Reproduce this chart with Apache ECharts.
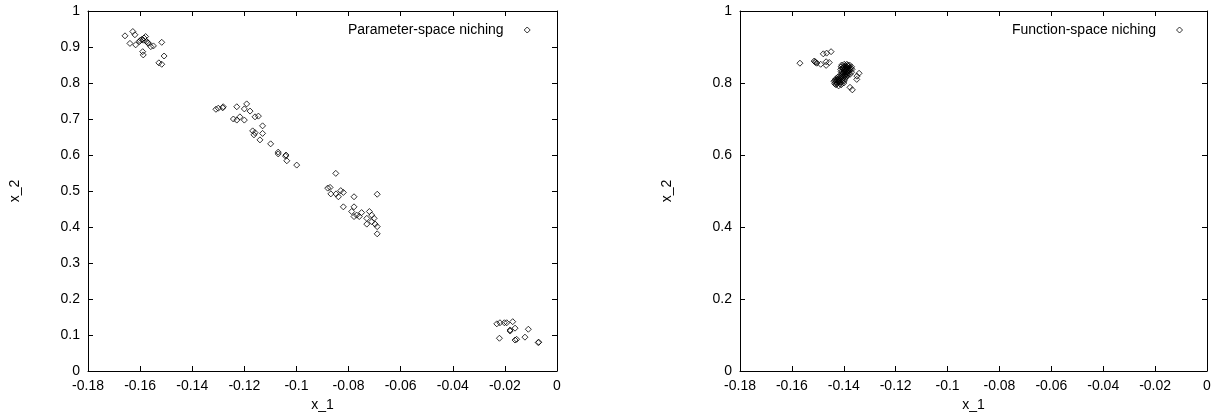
<!DOCTYPE html>
<html>
<head>
    <meta charset="utf-8">
    <title>niching</title>
    <script src="https://cdn.jsdelivr.net/npm/echarts@6/dist/echarts.min.js"></script>
    <style>
        html, body { margin: 0; padding: 0; background: #fff; }
        #chart { width: 1216px; height: 413px; }
    </style>
</head>
<body>
<div id="chart"></div>
<script>
    // 参数空间 niching 的点 [x_1, x_2]
    var paramNiching = [
        [-0.1658, 0.931], [-0.1628, 0.943], [-0.1620, 0.934], [-0.1639, 0.910], [-0.1617, 0.906],
        [-0.1603, 0.915], [-0.1594, 0.921], [-0.1588, 0.919], [-0.1579, 0.929], [-0.1575, 0.915],
        [-0.1569, 0.910], [-0.1559, 0.901], [-0.1549, 0.903], [-0.1590, 0.887], [-0.1588, 0.878],
        [-0.1517, 0.913], [-0.1508, 0.875], [-0.1528, 0.856], [-0.1517, 0.852], [-0.1600, 0.918],
        [-0.1585, 0.925], [-0.1570, 0.912],
        [-0.1309, 0.727], [-0.1300, 0.730], [-0.1281, 0.734], [-0.1283, 0.731], [-0.1229, 0.734],
        [-0.1200, 0.728], [-0.1191, 0.742], [-0.1178, 0.722], [-0.1159, 0.706], [-0.1146, 0.708],
        [-0.1242, 0.700], [-0.1229, 0.697], [-0.1217, 0.706], [-0.1200, 0.697], [-0.1168, 0.667],
        [-0.1159, 0.662], [-0.1163, 0.656], [-0.1130, 0.681], [-0.1130, 0.660], [-0.1140, 0.642],
        [-0.1099, 0.631], [-0.1070, 0.603], [-0.1070, 0.608], [-0.1040, 0.600], [-0.1037, 0.584],
        [-0.0999, 0.572], [-0.1042, 0.597],
        [-0.0849, 0.549], [-0.0880, 0.508], [-0.0871, 0.510], [-0.0868, 0.492], [-0.0848, 0.492],
        [-0.0839, 0.484], [-0.0830, 0.501], [-0.0820, 0.496], [-0.0779, 0.484], [-0.0690, 0.491],
        [-0.0820, 0.456], [-0.0779, 0.456], [-0.0788, 0.443], [-0.0779, 0.429], [-0.0769, 0.433],
        [-0.0759, 0.429], [-0.0750, 0.440], [-0.0730, 0.424], [-0.0730, 0.408], [-0.0720, 0.443],
        [-0.0711, 0.433], [-0.0702, 0.424], [-0.0711, 0.415], [-0.0698, 0.408], [-0.0690, 0.401],
        [-0.0690, 0.381],
        [-0.0231, 0.131], [-0.0219, 0.134], [-0.0202, 0.134], [-0.0193, 0.134], [-0.0170, 0.137],
        [-0.0161, 0.119], [-0.0180, 0.114], [-0.0180, 0.111], [-0.0221, 0.091], [-0.0161, 0.086],
        [-0.0155, 0.088], [-0.0123, 0.094], [-0.0110, 0.116], [-0.0072, 0.079], [-0.0070, 0.080]
    ];

    // 函数空间 niching 的点 [x_1, x_2]
    var funcNiching = [
        [-0.1569, 0.855], [-0.1511, 0.859], [-0.1514, 0.861], [-0.1508, 0.857], [-0.1504, 0.855],
        [-0.1489, 0.852], [-0.1479, 0.881], [-0.1466, 0.883], [-0.1449, 0.887], [-0.1468, 0.859],
        [-0.1468, 0.849], [-0.1456, 0.857],
        [-0.1341, 0.827], [-0.1349, 0.819], [-0.1350, 0.810], [-0.1376, 0.788], [-0.1367, 0.781],
        [-0.1400, 0.845], [-0.1395, 0.848], [-0.1390, 0.846], [-0.1385, 0.843], [-0.1405, 0.840],
        [-0.1398, 0.838], [-0.1388, 0.837], [-0.1380, 0.840], [-0.1410, 0.832], [-0.1400, 0.830],
        [-0.1392, 0.829], [-0.1384, 0.832], [-0.1378, 0.834], [-0.1405, 0.824], [-0.1396, 0.822],
        [-0.1388, 0.824], [-0.1412, 0.818], [-0.1420, 0.812], [-0.1428, 0.808], [-0.1418, 0.805],
        [-0.1425, 0.800], [-0.1432, 0.803], [-0.1410, 0.810], [-0.1402, 0.815], [-0.1415, 0.798],
        [-0.1395, 0.812], [-0.1408, 0.803], [-0.1435, 0.798], [-0.1398, 0.806], [-0.1390, 0.818],
        [-0.1408, 0.850], [-0.1398, 0.852], [-0.1388, 0.852], [-0.1378, 0.850], [-0.1370, 0.845],
        [-0.1368, 0.838], [-0.1370, 0.830], [-0.1376, 0.824], [-0.1386, 0.820], [-0.1396, 0.818],
        [-0.1410, 0.845], [-0.1412, 0.838], [-0.1392, 0.840], [-0.1382, 0.846], [-0.1375, 0.838],
        [-0.1382, 0.827], [-0.1394, 0.834], [-0.1402, 0.827],
        [-0.1438, 0.805], [-0.1430, 0.795], [-0.1420, 0.792], [-0.1410, 0.795], [-0.1400, 0.800],
        [-0.1430, 0.812], [-0.1422, 0.817], [-0.1412, 0.814], [-0.1405, 0.808], [-0.1418, 0.809],
        [-0.1426, 0.804],
        [-0.1403, 0.842], [-0.1391, 0.843], [-0.1381, 0.836], [-0.1399, 0.833], [-0.1387, 0.830],
        [-0.1407, 0.829], [-0.1393, 0.825], [-0.1415, 0.821], [-0.1423, 0.810], [-0.1414, 0.802],
        [-0.1427, 0.797], [-0.1433, 0.808], [-0.1404, 0.819], [-0.1385, 0.849], [-0.1374, 0.842]
    ];

    var xTicks = {min: -0.18, max: 0, interval: 0.02};
    var yTicksLeft = {min: 0, max: 1, interval: 0.1};
    var yTicksRight = {min: 0, max: 1, interval: 0.2};

    var font = 'Liberation Sans, Arial, Helvetica, sans-serif';
    var fontSize = 14;
    var myChart = echarts.init(document.getElementById('chart'), null, {renderer: 'canvas'});

    // 坐标轴公共样式
    function axisBase(extra) {
        var base = {
            type: 'value',
            axisLine: {show: true, onZero: false, lineStyle: {color: '#000', width: 1}},
            axisTick: {show: true, inside: true, length: 5, lineStyle: {color: '#000'}},
            splitLine: {show: false},
            axisLabel: {color: '#000', fontSize: fontSize, fontFamily: font, margin: 8},
            nameTextStyle: {color: '#000', fontSize: fontSize, fontFamily: font}
        };
        return Object.assign(base, extra);
    }

    var pointStyle = {color: 'rgba(0,0,0,0)', borderColor: '#000', borderWidth: 1};

    function legendAt(name, left) {
        return {
            data: [name], left: left, top: 23, padding: 0, align: 'right',
            icon: 'diamond', itemWidth: 6, itemHeight: 6, formatter: '{name}    ',
            itemStyle: {color: 'rgba(0,0,0,0)', borderColor: '#000', borderWidth: 1},
            textStyle: {color: '#000', fontSize: fontSize, fontFamily: font}
        };
    }

    myChart.setOption({
        backgroundColor: '#fff',
        animation: false,
        textStyle: {fontFamily: font},
        grid: [
            {left: 88, top: 11, width: 469, height: 360, outerBoundsMode: 'none'},
            {left: 740, top: 11, width: 467, height: 360, outerBoundsMode: 'none'}
        ],
        legend: [
            legendAt('Parameter-space niching', 348),
            legendAt('Function-space niching', 1012)
        ],
        xAxis: [
            axisBase({gridIndex: 0, min: xTicks.min, max: xTicks.max, interval: xTicks.interval,
                name: 'x_1', nameLocation: 'middle', nameGap: 24}),
            axisBase({gridIndex: 0, position: 'top', min: xTicks.min, max: xTicks.max, interval: xTicks.interval,
                axisLabel: {show: false}}),
            axisBase({gridIndex: 1, min: xTicks.min, max: xTicks.max, interval: xTicks.interval,
                name: 'x_1', nameLocation: 'middle', nameGap: 24}),
            axisBase({gridIndex: 1, position: 'top', min: xTicks.min, max: xTicks.max, interval: xTicks.interval,
                axisLabel: {show: false}})
        ],
        yAxis: [
            axisBase({gridIndex: 0, min: yTicksLeft.min, max: yTicksLeft.max, interval: yTicksLeft.interval,
                name: 'x_2', nameLocation: 'middle', nameGap: 66}),
            axisBase({gridIndex: 0, position: 'right', min: yTicksLeft.min, max: yTicksLeft.max, interval: yTicksLeft.interval,
                axisLabel: {show: false}}),
            axisBase({gridIndex: 1, min: yTicksRight.min, max: yTicksRight.max, interval: yTicksRight.interval,
                name: 'x_2', nameLocation: 'middle', nameGap: 66}),
            axisBase({gridIndex: 1, position: 'right', min: yTicksRight.min, max: yTicksRight.max, interval: yTicksRight.interval,
                axisLabel: {show: false}})
        ],
        series: [
            {
                name: 'Parameter-space niching', type: 'scatter', xAxisIndex: 0, yAxisIndex: 0,
                symbol: 'diamond', symbolSize: 6, itemStyle: pointStyle, data: paramNiching
            },
            {
                name: 'Function-space niching', type: 'scatter', xAxisIndex: 2, yAxisIndex: 2,
                symbol: 'diamond', symbolSize: 6, itemStyle: pointStyle, data: funcNiching
            }
        ]
    });
</script>
</body>
</html>
